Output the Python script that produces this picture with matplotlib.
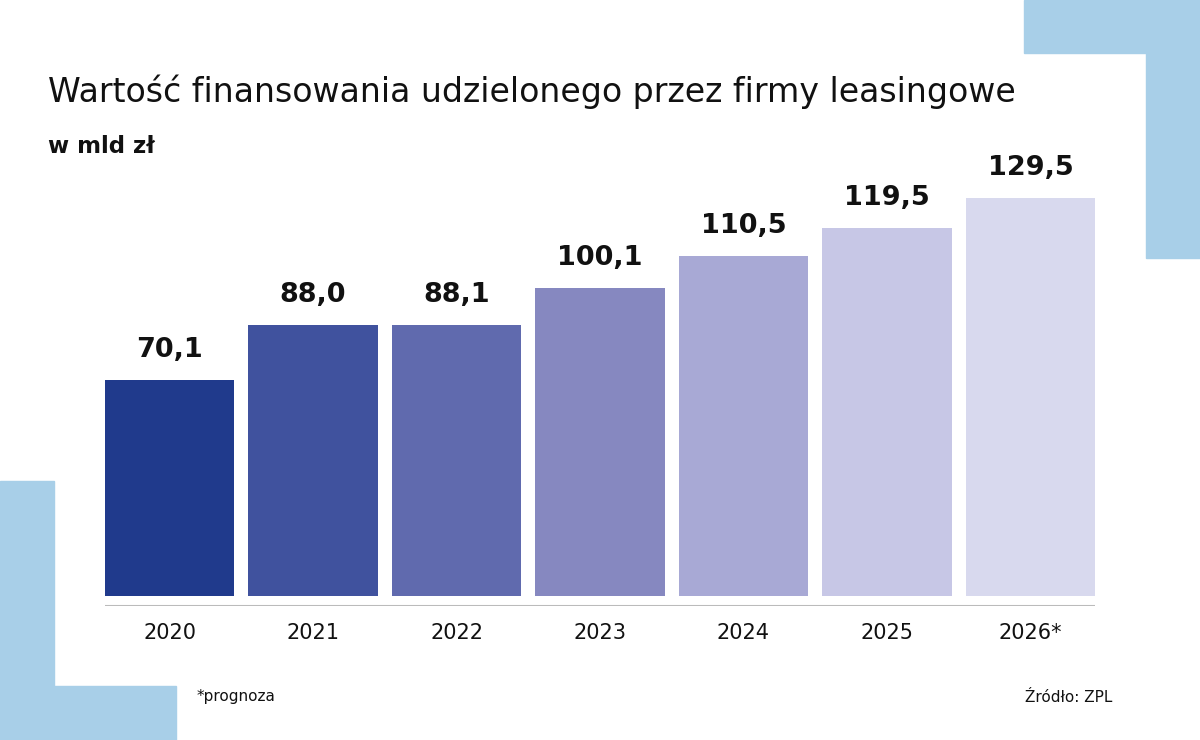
import matplotlib
matplotlib.use("Agg")
import matplotlib.pyplot as plt
from matplotlib.patches import Rectangle

# dane
lata = ["2020", "2021", "2022", "2023", "2024", "2025", "2026*"]
wartosci = [70.1, 88.0, 88.1, 100.1, 110.5, 119.5, 129.5]
kolory = ["#203a8c", "#40529e", "#606aae", "#8688c0", "#a8a9d5", "#c7c7e6", "#d8d9ee"]

tytul = "Wartość finansowania udzielonego przez firmy leasingowe"
podtytul = "w mld zł"
przypis = "*prognoza"
zrodlo = "Źródło: ZPL"

W, H = 1200, 740
fig = plt.figure(figsize=(W / 100, H / 100), dpi=100)
fig.patch.set_facecolor("white")

# dekoracje w rogach
niebieski = "#a8cfe8"
def prost(x0, y0, x1, y1):
    # wspolrzedne w pikselach od gory
    fig.patches.append(Rectangle((x0 / W, 1 - y1 / H), (x1 - x0) / W, (y1 - y0) / H,
                                 transform=fig.transFigure, color=niebieski, zorder=0))
prost(1024, 0, 1200, 53)
prost(1146, 0, 1200, 258)
prost(0, 481, 54, 740)
prost(0, 686, 176, 740)

ax = fig.add_axes([105 / W, 1 - 606 / H, 990 / W, 456 / H])
ax.set_facecolor("none")
x = range(len(lata))
ax.bar(x, wartosci, width=0.9, color=kolory, zorder=2)
ax.set_xlim(-0.45, len(lata) - 0.55)
ax.set_ylim(-3.28, 145.0)
ax.axhline(-3.28, color="#bbbbbb", lw=1.5, zorder=3)

for i, v in enumerate(wartosci):
    ax.text(i, v + 7.5, f"{v:.1f}".replace(".", ","), ha="center", va="baseline",
            fontsize=19.5, fontweight="bold", family="DejaVu Sans", color="#111111")

ax.set_xticks(list(x))
ax.set_xticklabels(lata, fontsize=15, family="DejaVu Sans", color="#111111")
ax.tick_params(axis="x", length=0, pad=12)
ax.set_yticks([])
for s in ax.spines.values():
    s.set_visible(False)

t = fig.text(48 / W, 1 - 102 / H, tytul, fontsize=23, family="DejaVu Sans", va="baseline",
             color="#111111")
# dopasowanie szerokosci tytulu do 969 px
fig.canvas.draw()
szer = t.get_window_extent().width
t.set_fontsize(23 * 969 / szer)
fig.text(48 / W, 1 - 153 / H, podtytul, fontsize=16.5, family="DejaVu Sans", fontweight="bold",
         va="baseline", color="#111111")
fig.text(197 / W, 1 - 697 / H, przypis, fontsize=11, va="center", color="#111111")
fig.text(1112 / W, 1 - 697 / H, zrodlo, fontsize=11, va="center", ha="right", color="#111111")

fig.savefig("out.png", dpi=100, facecolor="white")
